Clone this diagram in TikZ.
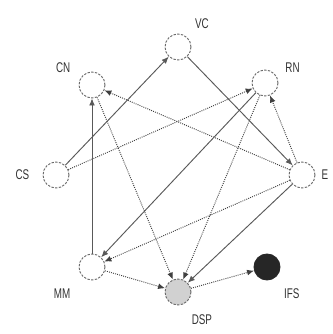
\documentclass[tikz,border=0pt]{standalone}
\usepackage{fontspec}
\usepackage{tikz}
\usetikzlibrary{positioning,arrows.meta}
\newfontfamily\lblfont[FakeStretch=0.7]{Liberation Sans}
\colorlet{edgeGray}{black!65}
\colorlet{circGray}{black!60}
\colorlet{dspGray}{black!18}
\colorlet{ifsDark}{black!85}

\begin{document}
\begin{tikzpicture}[every node/.style={font=\lblfont\fontsize{12}{13}\selectfont, text=black!80, inner sep=0pt},
    state/.style={circle, draw=circGray, thick, dash pattern=on 2pt off 1.2pt, minimum size=0.78cm},
    solidEdge/.style={draw=edgeGray, thick, -{Latex[length=6pt,width=5pt]}},
    dotEdge/.style={draw=black!75, thick, densely dotted, -{Latex[length=6pt,width=5pt]}}]
    \useasboundingbox (0,0) rectangle (9.96,10.02);
    % nodes
    \node[state] (vc) at (5.34,8.61) {};
    \node[state] (cn) at (2.76,7.47) {};
    \node[state] (rn) at (7.95,7.53) {};
    \node[state] (cs) at (1.68,4.77) {};
    \node[state] (e) at (9.06,4.77) {};
    \node[state] (mm) at (2.76,2.01) {};
    \node[state, fill=dspGray] (dsp) at (5.34,1.26) {};
    \node[state, fill=ifsDark, draw=ifsDark, solid] (ifs) at (8.01,2.01) {};
    % labels
    \node[above right=0.27cm and 0.22cm of vc] (vcLbl) {VC};
    \node[above left=0.08cm and 0.36cm of cn] (cnLbl) {CN};
    \node[above right=0.02cm and 0.32cm of rn] (rnLbl) {RN};
    \node[left=0.39cm of cs] (csLbl) {CS};
    \node[right=0.18cm of e] (eLbl) {E};
    \node[below left=0.35cm and 0.36cm of mm] (mmLbl) {MM};
    \node[below right=0.4cm and 0.12cm of dsp] (dspLbl) {DSP};
    \node[below right=0.35cm and 0.22cm of ifs] (ifsLbl) {IFS};
    % connectors
    \draw[solidEdge] (cs) -- (vc);
    \draw[dotEdge] (cs) -- (rn);
    \draw[solidEdge] (vc) -- (e);
    \draw[dotEdge] (e) -- (cn);
    \draw[dotEdge] (e) -- (rn);
    \draw[solidEdge] (mm) -- (cn);
    \draw[dotEdge] (cn) -- (dsp);
    \draw[solidEdge] (rn) -- (mm);
    \draw[dotEdge] (rn) -- (dsp);
    \draw[dotEdge] (e) -- (mm);
    \draw[solidEdge] (e) -- (dsp);
    \draw[dotEdge] (mm) -- (dsp);
    \draw[dotEdge] (dsp) -- (ifs);
\end{tikzpicture}
\end{document}
